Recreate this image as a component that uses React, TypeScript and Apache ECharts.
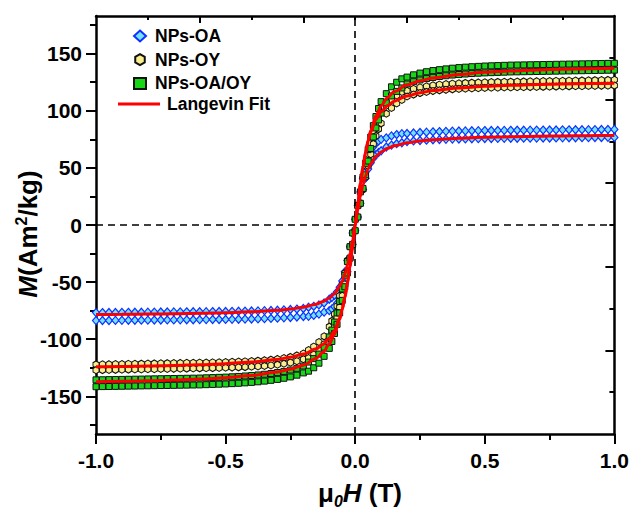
import React, { useEffect, useRef } from 'react';
import * as echarts from 'echarts';

// Applied field (T) for the measured points
const FIELD_T = [-1, -0.975, -0.95, -0.925, -0.9, -0.875, -0.85, -0.825, -0.8, -0.775, -0.75, -0.725, -0.7, -0.675, -0.65, -0.625, -0.6, -0.575, -0.55, -0.525, -0.5, -0.475, -0.45, -0.425, -0.4, -0.375, -0.35, -0.325, -0.3, -0.275, -0.25, -0.225, -0.2,
  -0.18, -0.16, -0.14, -0.12, -0.1, -0.09, -0.08, -0.07, -0.06, -0.05, -0.04, -0.03, -0.02, -0.01,
  0,
  0.01, 0.02, 0.03, 0.04, 0.05, 0.06, 0.07, 0.08, 0.09, 0.1, 0.12, 0.14, 0.16, 0.18,
  0.2, 0.225, 0.25, 0.275, 0.3, 0.325, 0.35, 0.375, 0.4, 0.425, 0.45, 0.475, 0.5, 0.525, 0.55, 0.575, 0.6, 0.625, 0.65, 0.675, 0.7, 0.725, 0.75, 0.775, 0.8, 0.825, 0.85, 0.875, 0.9, 0.925, 0.95, 0.975, 1];

// NPs-OA (descending / ascending branches)
const OA_DESC = [-76.7, -76.65, -76.6, -76.55, -76.5, -76.45, -76.4, -76.35, -76.3, -76.25, -76.2, -76.15, -76.1, -76.05, -76.0, -75.95, -75.9, -75.85, -75.8, -75.75, -75.7, -75.6, -75.5, -75.4, -75.3, -75.2, -75.0, -74.8, -74.6, -74.3, -74.0, -73.6, -73.1,
  -72, -71.2, -70, -68.3, -65, -63.5, -61.5, -58.5, -54.5, -49, -41, -31, -19, -7,
  5,
  17, 29, 41, 51, 59, 64.5, 68.5, 71.5, 73.5, 75, 76.3, 78, 79.2, 80,
  80.1, 80.6, 81.0, 81.3, 81.6, 81.8, 82.0, 82.2, 82.3, 82.4, 82.5, 82.6, 82.7, 82.75, 82.8, 82.85, 82.9, 82.95, 83.0, 83.05, 83.1, 83.15, 83.2, 83.25, 83.3, 83.35, 83.4, 83.45, 83.5, 83.55, 83.6, 83.65, 83.7];
const OA_ASC = [-83.7, -83.65, -83.6, -83.55, -83.5, -83.45, -83.4, -83.35, -83.3, -83.25, -83.2, -83.15, -83.1, -83.05, -83.0, -82.95, -82.9, -82.85, -82.8, -82.75, -82.7, -82.6, -82.5, -82.4, -82.3, -82.2, -82.0, -81.8, -81.6, -81.3, -81.0, -80.6, -80.1,
  -80, -79.2, -78, -76.3, -75, -73.5, -71.5, -68.5, -64.5, -59, -51, -41, -29, -17,
  -5,
  7, 19, 31, 41, 49, 54.5, 58.5, 61.5, 63.5, 65, 68.3, 70, 71.2, 72,
  73.1, 73.6, 74.0, 74.3, 74.6, 74.8, 75.0, 75.2, 75.3, 75.4, 75.5, 75.6, 75.7, 75.75, 75.8, 75.85, 75.9, 75.95, 76.0, 76.05, 76.1, 76.15, 76.2, 76.25, 76.3, 76.35, 76.4, 76.45, 76.5, 76.55, 76.6, 76.65, 76.7];

// NPs-OY
const OY_DESC = [-122.1, -122.0, -121.9, -121.8, -121.7, -121.6, -121.5, -121.4, -121.3, -121.2, -121.1, -121.0, -120.9, -120.8, -120.7, -120.6, -120.5, -120.4, -120.3, -120.2, -120.0, -119.8, -119.6, -119.4, -119.1, -118.8, -118.4, -117.9, -117.3, -116.5, -115.5, -114.2, -112.5,
  -109.5, -106.5, -102.5, -97.5, -89, -84, -78, -71, -62, -52, -42, -31, -19, -7,
  5,
  17, 29, 41, 52, 62, 72, 81, 88, 94, 99, 104.5, 109.5, 113.5, 116.5,
  117.5, 119.2, 120.5, 121.5, 122.3, 122.9, 123.4, 123.8, 124.1, 124.4, 124.6, 124.8, 125.0, 125.2, 125.3, 125.4, 125.5, 125.6, 125.7, 125.8, 125.9, 126.0, 126.1, 126.2, 126.3, 126.4, 126.5, 126.6, 126.7, 126.8, 126.9, 127.0, 127.1];
const OY_ASC = [-127.1, -127.0, -126.9, -126.8, -126.7, -126.6, -126.5, -126.4, -126.3, -126.2, -126.1, -126.0, -125.9, -125.8, -125.7, -125.6, -125.5, -125.4, -125.3, -125.2, -125.0, -124.8, -124.6, -124.4, -124.1, -123.8, -123.4, -122.9, -122.3, -121.5, -120.5, -119.2, -117.5,
  -116.5, -113.5, -109.5, -104.5, -99, -94, -88, -81, -72, -62, -52, -41, -29, -17,
  -5,
  7, 19, 31, 42, 52, 62, 71, 78, 84, 89, 97.5, 102.5, 106.5, 109.5,
  112.5, 114.2, 115.5, 116.5, 117.3, 117.9, 118.4, 118.8, 119.1, 119.4, 119.6, 119.8, 120.0, 120.2, 120.3, 120.4, 120.5, 120.6, 120.7, 120.8, 120.9, 121.0, 121.1, 121.2, 121.3, 121.4, 121.5, 121.6, 121.7, 121.8, 121.9, 122.0, 122.1];

// NPs-OA/OY
const OAOY_DESC = [-135.6, -135.5, -135.4, -135.3, -135.2, -135.1, -135.0, -134.9, -134.8, -134.7, -134.6, -134.5, -134.4, -134.3, -134.2, -134.1, -134.0, -133.8, -133.6, -133.4, -133.2, -132.9, -132.6, -132.2, -131.8, -131.3, -130.7, -130.0, -129.2, -128.2, -127.0, -125.5, -123.5,
  -120, -117, -113, -107, -98, -92, -85, -77, -67, -56, -44, -32, -19, -7,
  5,
  17, 29, 42, 54, 66, 77, 87, 95, 102, 108, 115, 121, 125, 128,
  129.5, 131.5, 133, 134.2, 135.2, 136, 136.7, 137.3, 137.8, 138.2, 138.6, 138.9, 139.2, 139.4, 139.6, 139.8, 140, 140.1, 140.2, 140.3, 140.4, 140.5, 140.6, 140.7, 140.8, 140.9, 141, 141.1, 141.2, 141.3, 141.4, 141.5, 141.6];
const OAOY_ASC = [-141.6, -141.5, -141.4, -141.3, -141.2, -141.1, -141, -140.9, -140.8, -140.7, -140.6, -140.5, -140.4, -140.3, -140.2, -140.1, -140, -139.8, -139.6, -139.4, -139.2, -138.9, -138.6, -138.2, -137.8, -137.3, -136.7, -136, -135.2, -134.2, -133, -131.5, -129.5,
  -128, -125, -121, -115, -108, -102, -95, -87, -77, -66, -54, -42, -29, -17,
  -5,
  7, 19, 32, 44, 56, 67, 77, 85, 92, 98, 107, 113, 117, 120,
  123.5, 125.5, 127, 128.2, 129.2, 130, 130.7, 131.3, 131.8, 132.2, 132.6, 132.9, 133.2, 133.4, 133.6, 133.8, 134, 134.1, 134.2, 134.3, 134.4, 134.5, 134.6, 134.7, 134.8, 134.9, 135, 135.1, 135.2, 135.3, 135.4, 135.5, 135.6];

// Langevin fits
const FIT_T = [-1, -0.9, -0.8, -0.7, -0.6, -0.5, -0.4, -0.3, -0.25, -0.2, -0.15, -0.125, -0.1, -0.08, -0.06, -0.05, -0.04, -0.03, -0.02, -0.01, 0,
  0.01, 0.02, 0.03, 0.04, 0.05, 0.06, 0.08, 0.1, 0.125, 0.15, 0.2, 0.25, 0.3, 0.4, 0.5, 0.6, 0.7, 0.8, 0.9, 1];
const FIT_OA = [-78.4, -78.2, -78.0, -77.7, -77.3, -76.8, -76.0, -74.7, -73.6, -72.0, -69.3, -67.2, -64.0, -60.1, -53.7, -49.1, -43.0, -35.0, -25.0, -13.1, 0,
  13.1, 25.0, 35.0, 43.0, 49.1, 53.7, 60.1, 64.0, 67.2, 69.3, 72.0, 73.6, 74.7, 76.0, 76.8, 77.3, 77.7, 78.0, 78.2, 78.4];
const FIT_OY = [-124.2, -123.9, -123.5, -123.0, -122.3, -121.4, -120.0, -117.7, -115.8, -113.0, -108.4, -104.7, -99.1, -92.3, -81.5, -73.9, -64.0, -51.7, -36.5, -19.0, 0,
  19.0, 36.5, 51.7, 64.0, 73.9, 81.5, 92.3, 99.1, 104.7, 108.4, 113.0, 115.8, 117.7, 120.0, 121.4, 122.3, 123.0, 123.5, 123.9, 124.2];
const FIT_OAOY = [-137.3, -136.9, -136.4, -135.8, -134.9, -133.7, -131.8, -128.8, -126.3, -122.7, -116.6, -111.7, -104.5, -95.7, -82.7, -73.8, -63.0, -49.9, -34.8, -17.9, 0,
  17.9, 34.8, 49.9, 63.0, 73.8, 82.7, 95.7, 104.5, 111.7, 116.6, 122.7, 126.3, 128.8, 131.8, 133.7, 134.9, 135.8, 136.4, 136.9, 137.3];

const Y_MAJOR = [-150, -100, -50, 0, 50, 100, 150];
const Y_MINOR = [-175, -125, -75, -25, 25, 75, 125, 175];
const Y_RIGHT_MAJOR = [-109.8, -36.6, 36.6, 109.8];
const Y_RIGHT_MINOR = [-146.4, -73.2, 0, 73.2, 146.4];
const X_TOP_MAJOR = [-0.6, -0.2, 0.2, 0.6];
const X_TOP_MINOR = [-0.8, -0.4, 0, 0.4, 0.8];
const Y_MIN = -183;
const Y_MAX = 183;

const FONT = "'Liberation Sans', Arial, sans-serif";
const HEX = 'path://M0,-10L8.66,-5L8.66,5L0,10L-8.66,5L-8.66,-5Z';

const pair = (xs: number[], ys: number[]) => xs.map((x, i) => [x, ys[i]]);

export default function App() {
  const ref = useRef<HTMLDivElement>(null);
  useEffect(() => {
    if (!ref.current) return;
    const chart = echarts.init(ref.current, undefined, { renderer: 'svg' });
    const axisLine = { show: true, onZero: false, lineStyle: { color: '#000', width: 2.5 } };
    const noLine = { show: false, onZero: false };
    const hidden = { show: false };
    const tickStyle = { color: '#000', width: 2 };
    const option: any = {
      animation: false,
      backgroundColor: '#fff',
      textStyle: { fontFamily: FONT },
      grid: { left: 96, right: 17, top: 16, bottom: 76 },
      xAxis: [
        {
          type: 'value', position: 'bottom', min: -1, max: 1, interval: 0.5,
          axisLine, splitLine: hidden,
          axisTick: { show: true, inside: false, length: 10, lineStyle: tickStyle },
          minorTick: { show: true, splitNumber: 2, length: 6, lineStyle: tickStyle },
          axisLabel: { margin: 16, color: '#000', fontSize: 21, fontWeight: 'bold', fontFamily: FONT, formatter: (v: number) => v.toFixed(1) },
        },
        {
          type: 'value', position: 'top', min: -1, max: 1,
          axisLine, splitLine: hidden, axisLabel: hidden,
          axisTick: { show: true, inside: true, length: 7, customValues: X_TOP_MAJOR, lineStyle: tickStyle },
        },
        {
          type: 'value', position: 'top', min: -1, max: 1,
          axisLine: noLine, splitLine: hidden, axisLabel: hidden,
          axisTick: { show: true, inside: true, length: 4, customValues: X_TOP_MINOR, lineStyle: tickStyle },
        },
      ],
      yAxis: [
        {
          type: 'value', position: 'left', min: Y_MIN, max: Y_MAX,
          axisLine, splitLine: hidden,
          axisTick: { show: true, inside: false, length: 10, customValues: Y_MAJOR, lineStyle: tickStyle },
          axisLabel: { customValues: Y_MAJOR, margin: 14, color: '#000', fontSize: 21, fontWeight: 'bold', fontFamily: FONT },
        },
        {
          type: 'value', position: 'left', min: Y_MIN, max: Y_MAX,
          axisLine: noLine, splitLine: hidden, axisLabel: hidden,
          axisTick: { show: true, inside: false, length: 6, customValues: Y_MINOR, lineStyle: tickStyle },
        },
        {
          type: 'value', position: 'right', min: Y_MIN, max: Y_MAX,
          axisLine, splitLine: hidden, axisLabel: hidden,
          axisTick: { show: true, inside: true, length: 9, customValues: Y_RIGHT_MAJOR, lineStyle: tickStyle },
        },
        {
          type: 'value', position: 'right', min: Y_MIN, max: Y_MAX,
          axisLine: noLine, splitLine: hidden, axisLabel: hidden,
          axisTick: { show: true, inside: true, length: 5, customValues: Y_RIGHT_MINOR, lineStyle: tickStyle },
        },
      ],
      legend: [
        {
          orient: 'vertical', left: 128, top: 22, itemWidth: 12, itemHeight: 11, itemGap: 5.7,
          selectedMode: false,
          data: ['NPs-OA', 'NPs-OY', 'NPs-OA/OY'],
          textStyle: { color: '#000', fontSize: 17.5, fontWeight: 'bold', fontFamily: FONT, lineHeight: 17, padding: [0, 0, 0, 4] },
        },
        {
          orient: 'vertical', left: 113, top: 90, itemWidth: 42, itemHeight: 3,
          selectedMode: false,
          data: [{ name: 'Langevin Fit', icon: 'rect', itemStyle: { color: '#ff0000' } }],
          textStyle: { color: '#000', fontSize: 17.5, fontWeight: 'bold', fontFamily: FONT, lineHeight: 17, padding: [0, 0, 0, 2] },
        },
      ],
      graphic: [
        {
          type: 'text', x: 360, y: 493, z: 100,
          style: {
            text: '{g|μ}{sub|0}{ih|H}{n| (T)}',
            align: 'center', verticalAlign: 'middle',
            rich: {
              g: { fontSize: 26, fontWeight: 'bold', fontFamily: FONT, fill: '#000', lineHeight: 32 },
              sub: { fontSize: 16, fontWeight: 'bold', fontStyle: 'italic', fontFamily: FONT, fill: '#000', verticalAlign: 'bottom', lineHeight: 32 },
              ih: { fontSize: 26, fontWeight: 'bold', fontStyle: 'italic', fontFamily: FONT, fill: '#000', lineHeight: 32 },
              n: { fontSize: 26, fontWeight: 'bold', fontFamily: FONT, fill: '#000', lineHeight: 32 },
            },
          },
        },
        {
          type: 'text', x: 28, y: 234, rotation: Math.PI / 2, z: 100,
          style: {
            text: '{im|M}{n|(Am}{sup|2}{n|/kg)}',
            align: 'center', verticalAlign: 'middle',
            rich: {
              im: { fontSize: 26, fontWeight: 'bold', fontStyle: 'italic', fontFamily: FONT, fill: '#000', lineHeight: 30 },
              n: { fontSize: 26, fontWeight: 'bold', fontFamily: FONT, fill: '#000', lineHeight: 30 },
              sup: { fontSize: 16, fontWeight: 'bold', fontFamily: FONT, fill: '#000', verticalAlign: 'top', lineHeight: 30 },
            },
          },
        },
      ],
      series: [
        {
          name: 'zero-lines', type: 'line', data: [], z: 1, silent: true,
          markLine: {
            silent: true, symbol: ['none', 'none'], animation: false,
            label: { show: false },
            lineStyle: { color: '#000', type: [7, 5], width: 1.6 },
            emphasis: { disabled: true },
            data: [{ xAxis: 0 }, { yAxis: 0 }],
          },
        },
        {
          name: 'NPs-OA', type: 'scatter', z: 2, symbol: 'diamond', symbolSize: [7, 8],
          itemStyle: { color: '#72e2ff', borderColor: '#1030ff', borderWidth: 1.2, opacity: 1 },
          emphasis: { disabled: true },
          data: [...pair(FIELD_T, OA_DESC), ...pair(FIELD_T, OA_ASC)],
        },
        {
          name: 'NPs-OY', type: 'scatter', z: 3, symbol: HEX, symbolSize: [6, 7],
          itemStyle: { color: '#fbee8c', borderColor: '#111', borderWidth: 1, opacity: 1 },
          emphasis: { disabled: true },
          data: [...pair(FIELD_T, OY_DESC), ...pair(FIELD_T, OY_ASC)],
        },
        {
          name: 'NPs-OA/OY', type: 'scatter', z: 4, symbol: 'rect', symbolSize: 6,
          itemStyle: { color: '#16d616', borderColor: '#111', borderWidth: 1, opacity: 1 },
          emphasis: { disabled: true },
          data: [...pair(FIELD_T, OAOY_DESC), ...pair(FIELD_T, OAOY_ASC)],
        },
        ...[FIT_OA, FIT_OY, FIT_OAOY].map((ys) => ({
          name: 'Langevin Fit', type: 'line', z: 5, symbol: 'none', showSymbol: false,
          smooth: 0.3, smoothMonotone: 'x',
          lineStyle: { color: '#ff0000', width: 3 },
          itemStyle: { color: '#ff0000' },
          emphasis: { disabled: true },
          data: pair(FIT_T, ys),
        })),
      ],
    };
    chart.setOption(option);
    return () => chart.dispose();
  }, []);
  return <div ref={ref} style={{ position: 'fixed', left: 0, top: 0, width: 632, height: 510 }} />;
}
